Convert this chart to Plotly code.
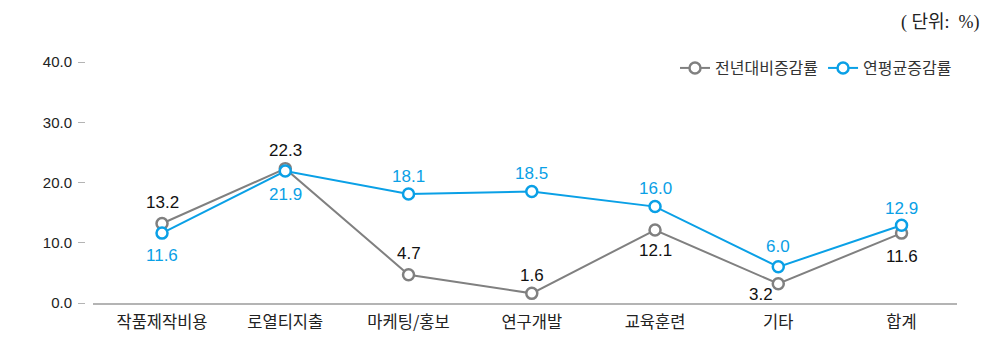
import plotly.graph_objects as go

categories = ["작품제작비용", "로열티지출", "마케팅/홍보", "연구개발", "교육훈련", "기타", "합계"]
yoy_rate = [13.2, 22.3, 4.7, 1.6, 12.1, 3.2, 11.6]
cagr_rate = [11.6, 21.9, 18.1, 18.5, 16.0, 6.0, 12.9]
y_ticks = [0, 10, 20, 30, 40]

# label placement per point: (x shift px, y shift px)
yoy_shift = [(0, 21), (0, 18), (0, 21), (0, 18), (0, -20), (-17, -11), (0, -23)]
cagr_shift = [(0, -22), (0, -23), (0, 17), (0, 18), (0, 18), (0, 20), (0, 17)]

GRAY = "#808080"
BLUE = "#0aa0e6"
NUM_FONT = "Liberation Sans, Arial"
KR_FONT = "Noto Sans CJK KR"
x_idx = list(range(len(categories)))

fig = go.Figure()
for name, vals, color in [("전년대비증감률", yoy_rate, GRAY), ("연평균증감률", cagr_rate, BLUE)]:
    fig.add_trace(go.Scatter(
        x=x_idx, y=vals, name=name,
        mode="lines+markers",
        line=dict(color=color, width=2),
        marker=dict(symbol="circle", size=11, color="white",
                    line=dict(color=color, width=2.5)),
        cliponaxis=False,
    ))

for vals, shifts, color in [(yoy_rate, yoy_shift, "#111111"), (cagr_rate, cagr_shift, BLUE)]:
    for i, (v, (dx, dy)) in enumerate(zip(vals, shifts)):
        fig.add_annotation(
            x=i, y=v, text=f"{v:.1f}", showarrow=False,
            xshift=dx, yshift=dy, xanchor="center", yanchor="middle",
            font=dict(family=NUM_FONT, size=17, color=color),
        )

fig.add_annotation(text="( 단위:  %)", xref="paper", yref="paper",
                   x=1.029, xanchor="right", y=1.165, yanchor="middle",
                   showarrow=False,
                   font=dict(family="Liberation Serif, " + KR_FONT, size=18, color="#222222"))

fig.update_layout(
    width=987, height=357,
    margin=dict(l=85, r=30, t=62, b=54),
    paper_bgcolor="white", plot_bgcolor="white",
    font=dict(family=KR_FONT, size=14, color="#222222"),
    showlegend=True,
    legend=dict(orientation="h", x=1.0, xanchor="right", y=0.975, yanchor="middle",
                font=dict(family=KR_FONT, size=16, color="#333333"),
                bgcolor="rgba(0,0,0,0)", traceorder="normal"),
)

fig.update_xaxes(
    domain=[8 / 872, 1],
    range=[-0.56, 6.45],
    tickvals=x_idx, ticktext=categories,
    showgrid=False, zeroline=False,
    showline=True, linecolor="#b4b4b4", linewidth=2,
    ticks="", ticklabelstandoff=3,
    tickfont=dict(family=KR_FONT, size=16.5, color="#222222"),
    fixedrange=True,
)
fig.update_yaxes(
    anchor="free", position=0,
    range=[0, 40],
    tickvals=y_ticks, ticktext=[f"{v:.1f}" for v in y_ticks],
    showgrid=False, zeroline=False, showline=False,
    ticks="outside", ticklen=7, tickcolor="#b4b4b4", tickwidth=1,
    ticklabelstandoff=3,
    tickfont=dict(family=NUM_FONT, size=15, color="#222222"),
    fixedrange=True,
)

fig.write_html("out.html")
